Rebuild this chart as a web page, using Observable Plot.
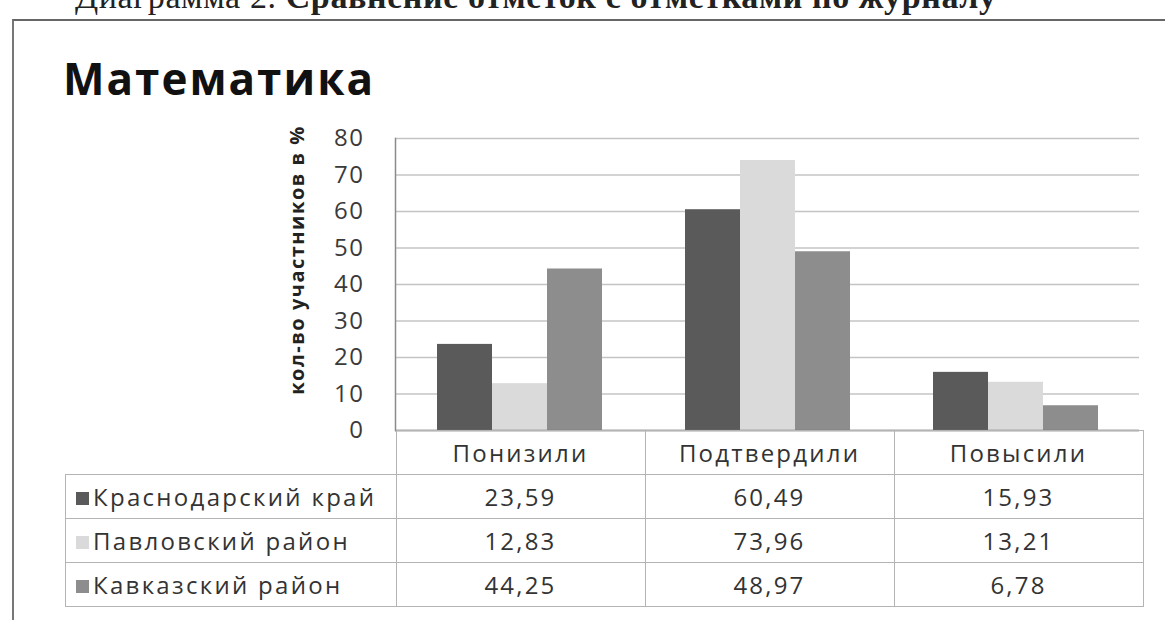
<!DOCTYPE html>
<html><head><meta charset="utf-8">
<script src="https://cdn.jsdelivr.net/npm/d3@7"></script>
<script src="https://cdn.jsdelivr.net/npm/@observablehq/plot@0.6"></script>
<style>
body{margin:0;background:#fff;width:1165px;height:620px;overflow:hidden;position:relative;font-family:"Open Sans",Lato,sans-serif;}
#cap{position:absolute;left:75px;top:-22px;font-family:"Liberation Serif",serif;font-size:34px;letter-spacing:0.6px;color:#222;white-space:nowrap;}
#frame{position:absolute;left:12px;top:19px;width:1200px;height:700px;border-left:2px solid #777;border-top:2px solid #666;}
#title{position:absolute;left:63px;top:56px;font-size:44px;font-weight:700;color:#111;line-height:1;letter-spacing:2px;}
#ylabel{position:absolute;left:137px;top:248px;width:320px;height:24px;line-height:24px;text-align:center;font-size:20px;font-weight:700;color:#222;letter-spacing:1.5px;transform:rotate(-90deg);transform-origin:center;white-space:nowrap;}
#chart{position:absolute;left:0;top:120px;}
#chart svg{overflow:visible;background:transparent;}
#chart svg text{letter-spacing:1.5px;}
#tbl{position:absolute;left:65px;top:430px;border-collapse:collapse;font-size:24px;letter-spacing:2.2px;color:#333;}
#tbl td{padding:0;text-align:center;border:1.5px solid #b4b4b4;}
#tbl tr.head td{height:43px;}
#tbl tr.row td{height:43px;}
#tbl td.blank{border:none;}
#tbl td.lab{text-align:left;padding-left:10px;white-space:nowrap;letter-spacing:2.3px;}
.sw{display:inline-block;width:13px;height:13px;margin-right:4px;vertical-align:1px;}
</style></head><body>
<div id="cap">Диаграмма 2. <b>Сравнение отметок с отметками по журналу</b></div>
<div id="frame"></div>
<div id="title">Математика</div>
<div id="ylabel">кол-во участников в %</div>
<div id="chart"></div>
<table id="tbl"></table>
<script>
const categories = ["Понизили", "Подтвердили", "Повысили"];
const seriesNames = ["Краснодарский край", "Павловский район", "Кавказский район"];
const krasnodar = [23.59, 60.49, 15.93];
const pavlovsky = [12.83, 73.96, 13.21];
const kavkaz = [44.25, 48.97, 6.78];
const valueLabels = [["23,59", "60,49", "15,93"], ["12,83", "73,96", "13,21"], ["44,25", "48,97", "6,78"]];
const yTicks = [0, 10, 20, 30, 40, 50, 60, 70, 80];
const seriesColors = ["#5a5a5a", "#dadada", "#8d8d8d"];

const seriesValues = [krasnodar, pavlovsky, kavkaz];
const data = seriesNames.flatMap((s, i) => categories.map((c, j) => ({series: s, category: c, value: seriesValues[i][j]})));

const plot = Plot.plot({
  width: 1165, height: 324,
  marginLeft: 395, marginRight: 26, marginTop: 18, marginBottom: 14,
  style: {fontFamily: '"Open Sans", Lato, sans-serif', fontSize: "23px", color: "#3a3a3a", background: "transparent", overflow: "visible"},
  fx: {domain: categories, padding: 0, axis: null},
  x: {domain: seriesNames, paddingInner: 0, paddingOuter: 0.74, axis: null},
  y: {domain: [0, 80]},
  color: {domain: seriesNames, range: seriesColors},
  marks: [
    Plot.gridY(yTicks, {stroke: "#c4c4c4", strokeOpacity: 1, strokeWidth: 1.5}),
    Plot.barY(data, {fx: "category", x: "series", y: "value", fill: "series"}),
    Plot.axisY(yTicks, {tickSize: 0, tickPadding: 31, label: null, fontSize: 24}),
    Plot.ruleY([0], {stroke: "#7a7a7a", strokeWidth: 1.5}),
    Plot.frame({anchor: "left", stroke: "#8a8a8a", strokeWidth: 1.5, fx: categories[0]})
  ]
});
document.getElementById("chart").appendChild(plot);

// table aligned to the fx scale
const fxs = plot.scale("fx");
const colW = fxs.bandwidth;
const left0 = fxs.range[0];
const tbl = document.getElementById("tbl");
let html = `<tr class="head"><td class="blank" style="width:${left0 - 65}px"></td>` +
  categories.map(c => `<td style="width:${colW}px">${c}</td>`).join("") + `</tr>`;
seriesNames.forEach((s, i) => {
  html += `<tr class="row"><td class="lab"><span class="sw" style="background:${seriesColors[i]}"></span>${s}</td>` +
    valueLabels[i].map(v => `<td>${v}</td>`).join("") + `</tr>`;
});
tbl.innerHTML = html;
</script>
</body></html>
